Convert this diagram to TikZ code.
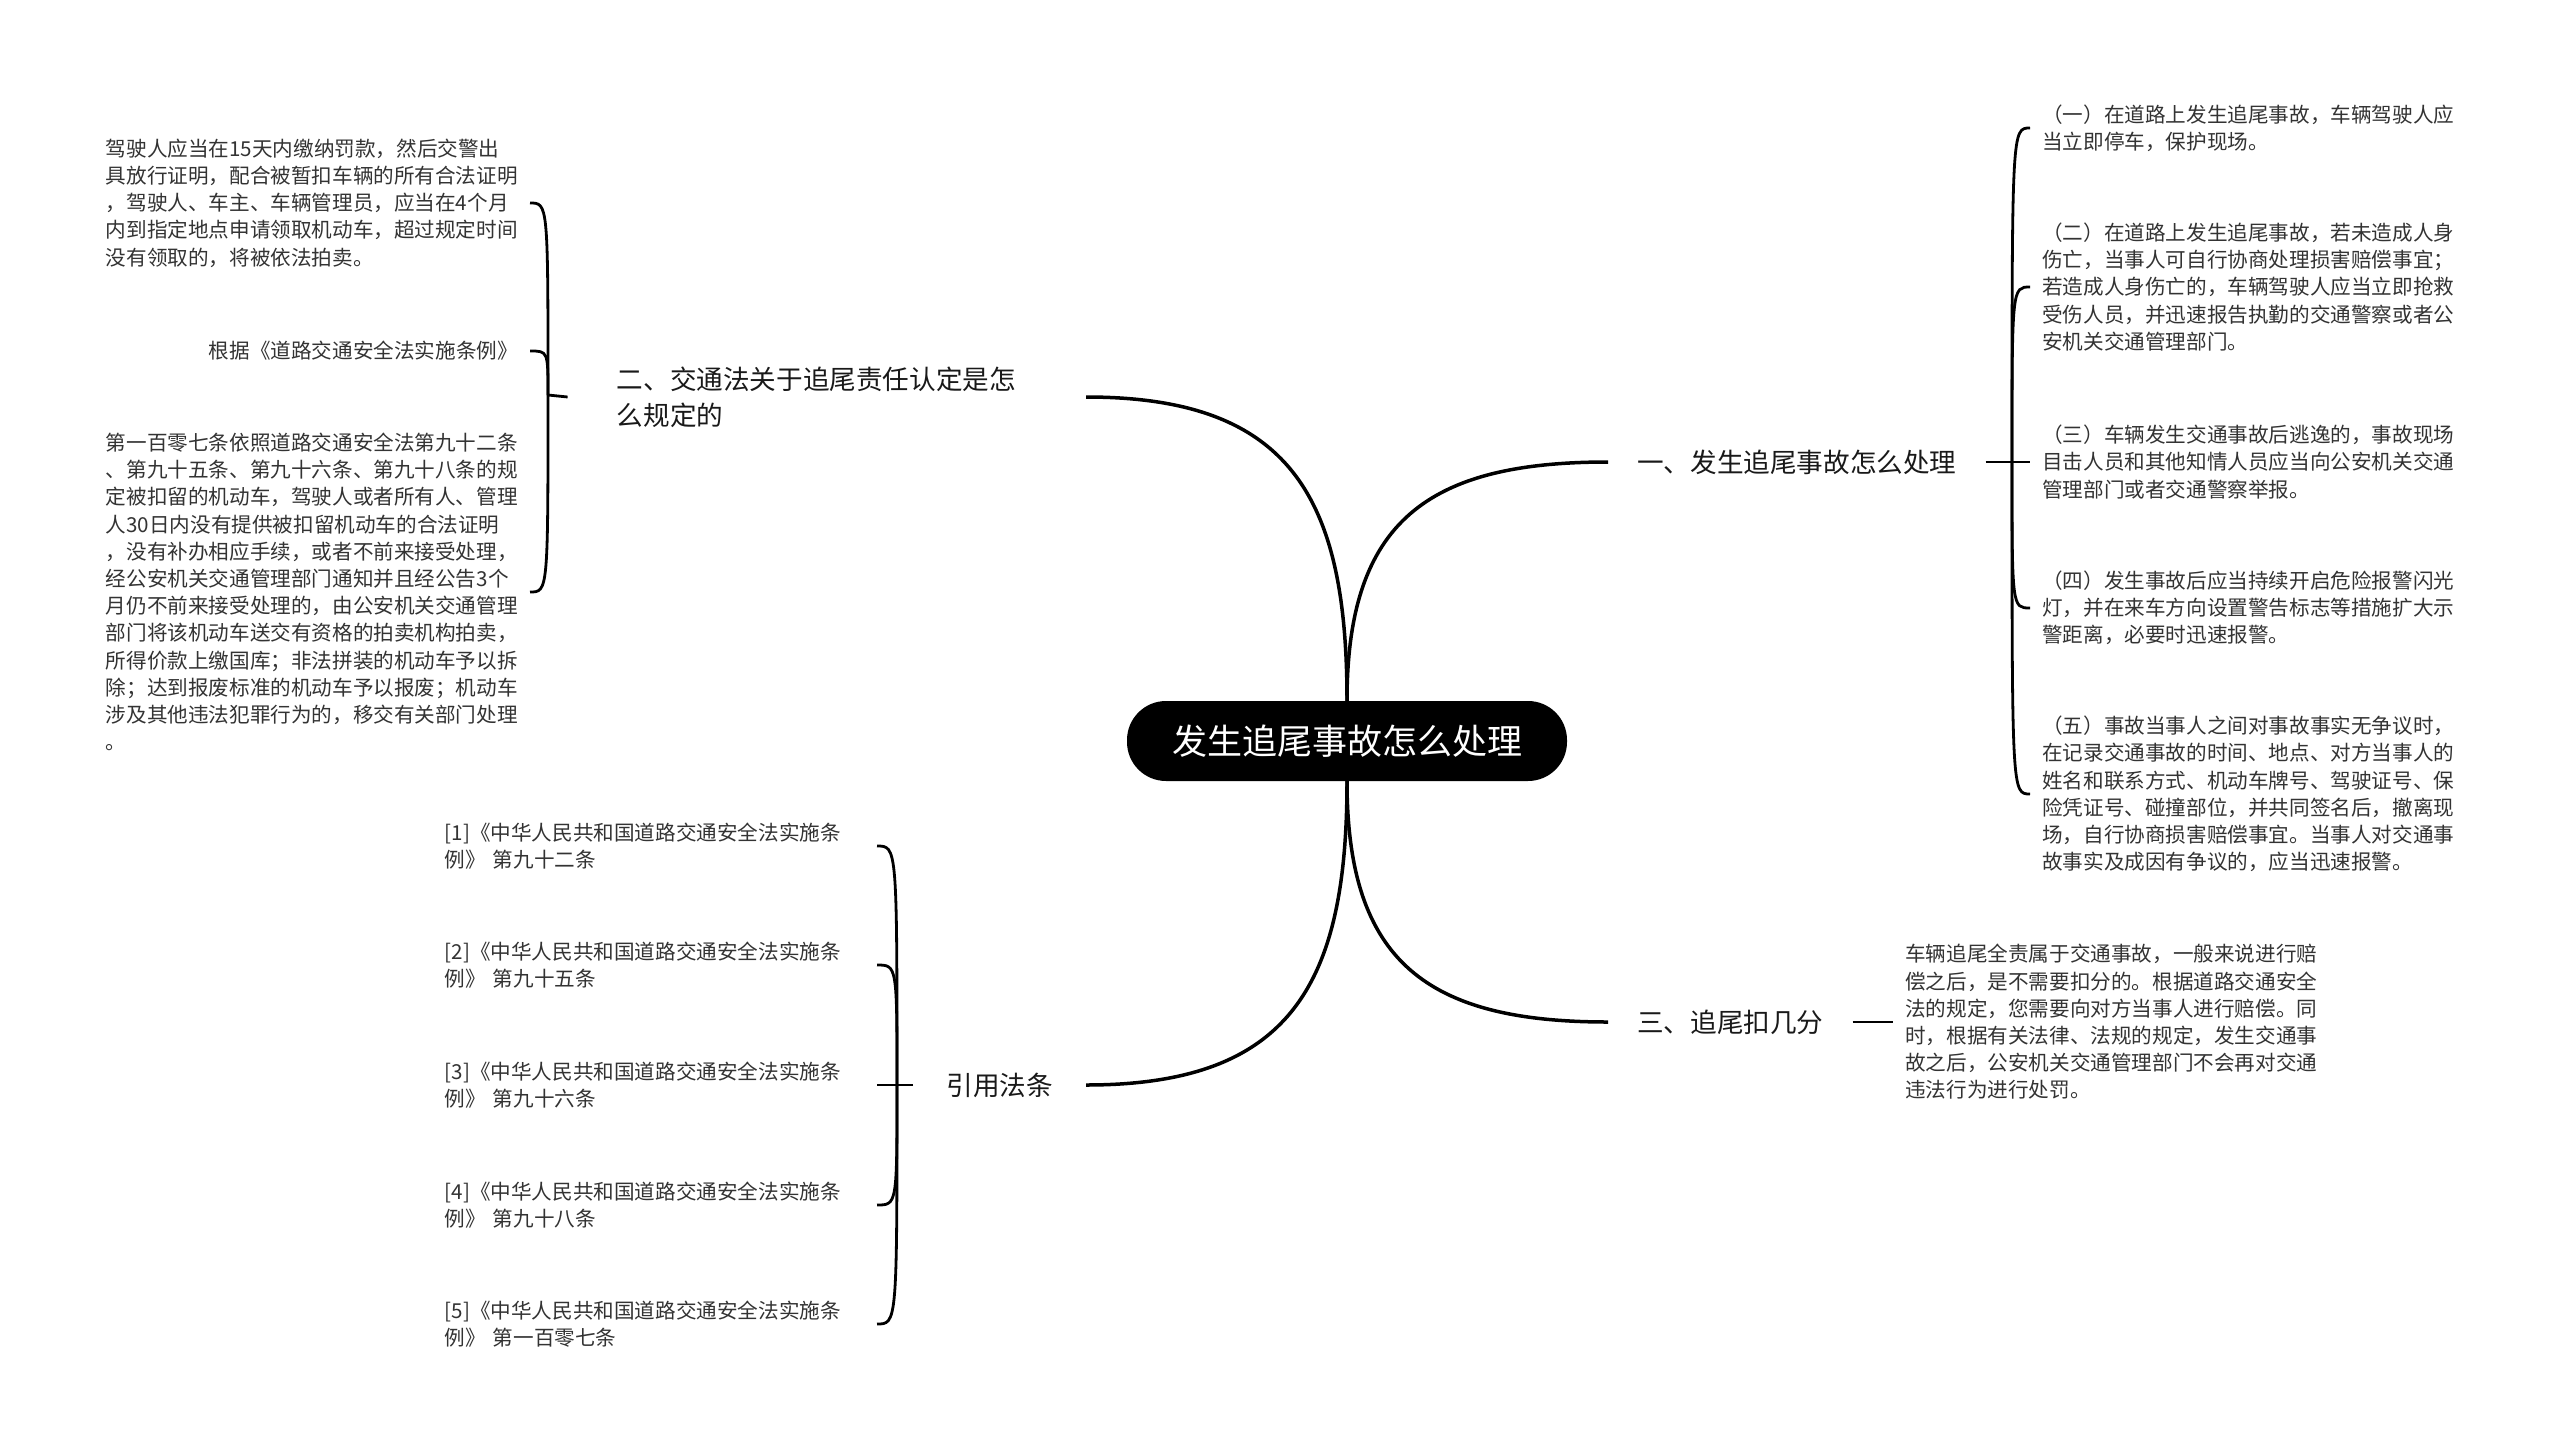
\documentclass[tikz,border=0pt]{standalone}
\usepackage{fontspec}
\setmainfont{Noto Sans CJK SC}
\usepackage{tikz}
\definecolor{leafgray}{HTML}{333333}

\begin{document}
\begin{tikzpicture}[x=1pt, y=-1pt,
	leaf/.style={font=\fontsize{20.6}{27.2}\selectfont, text=leafgray, align=left, inner xsep=12pt, inner ysep=0pt},
	branch/.style={font=\fontsize{26.6}{36}\selectfont, text=black!90, align=left, inner xsep=29pt, inner ysep=4pt},
	trunk/.style={line width=3.5pt},
	twig/.style={line width=2.8pt}]

\fill[white] (0,0) rectangle (2560,1451);
\useasboundingbox (0,0) rectangle (2560,1451);

\node[fill=black, text=white, rounded corners=39pt, minimum width=440pt, minimum height=80pt, font=\fontsize{35}{42}\selectfont] (root) at (1347,741) {发生追尾事故怎么处理};

\node[branch, anchor=west] (b1) at (1608,462) {一、发生追尾事故怎么处理};
\node[branch, anchor=east, text width=420pt, inner xsep=49pt] (b2) at (1086,397) {二、交通法关于追尾责任认定是怎\\么规定的};
\node[branch, anchor=west] (b3) at (1608,1022) {三、追尾扣几分};
\node[branch, anchor=east, inner xsep=33pt] (b4) at (1086,1085) {引用法条};

\draw[trunk] (root.north) to[out=90, in=180, looseness=1.3] (b1.west);
\draw[trunk] (root.north) to[out=90, in=0, looseness=1.3] (b2.east);
\draw[trunk] (root.south) to[out=-90, in=180, looseness=1.3] (b3.west);
\draw[trunk] (root.south) to[out=-90, in=0, looseness=1.3] (b4.east);

% right side
\coordinate (j1) at (2012,462);
\node[leaf, anchor=west] (p1) at (2030,128) {（一）在道路上发生追尾事故，车辆驾驶人应\\当立即停车，保护现场。};
\node[leaf, anchor=west] (p2) at (2030,287) {（二）在道路上发生追尾事故，若未造成人身\\伤亡，当事人可自行协商处理损害赔偿事宜；\\若造成人身伤亡的，车辆驾驶人应当立即抢救\\受伤人员，并迅速报告执勤的交通警察或者公\\安机关交通管理部门。};
\node[leaf, anchor=west] (p3) at (2030,462) {（三）车辆发生交通事故后逃逸的，事故现场\\目击人员和其他知情人员应当向公安机关交通\\管理部门或者交通警察举报。};
\node[leaf, anchor=west] (p4) at (2030,608) {（四）发生事故后应当持续开启危险报警闪光\\灯，并在来车方向设置警告标志等措施扩大示\\警距离，必要时迅速报警。};
\node[leaf, anchor=west] (p5) at (2030,794) {（五）事故当事人之间对事故事实无争议时，\\在记录交通事故的时间、地点、对方当事人的\\姓名和联系方式、机动车牌号、驾驶证号、保\\险凭证号、碰撞部位，并共同签名后，撤离现\\场，自行协商损害赔偿事宜。当事人对交通事\\故事实及成因有争议的，应当迅速报警。};

\draw[twig] (b1.east) -- (j1);
\foreach \p in {p1,p2,p3,p4,p5}
	\draw[twig] (j1) .. controls (j1 |- \p.west) .. (\p.west);

\node[leaf, anchor=west] (d1) at (1893,1022) {车辆追尾全责属于交通事故，一般来说进行赔\\偿之后，是不需要扣分的。根据道路交通安全\\法的规定，您需要向对方当事人进行赔偿。同\\时，根据有关法律、法规的规定，发生交通事\\故之后，公安机关交通管理部门不会再对交通\\违法行为进行处罚。};
\draw[twig] (b3.east) -- (d1.west);

% left side
\coordinate (j2) at (548,395);
\node[leaf, anchor=east] (a1) at (530,203) {驾驶人应当在15天内缴纳罚款，然后交警出\\具放行证明，配合被暂扣车辆的所有合法证明\\，驾驶人、车主、车辆管理员，应当在4个月\\内到指定地点申请领取机动车，超过规定时间\\没有领取的，将被依法拍卖。};
\node[leaf, anchor=east] (a2) at (530,351) {根据《道路交通安全法实施条例》};
\node[leaf, anchor=east] (a3) at (530,592) {第一百零七条依照道路交通安全法第九十二条\\、第九十五条、第九十六条、第九十八条的规\\定被扣留的机动车，驾驶人或者所有人、管理\\人30日内没有提供被扣留机动车的合法证明\\，没有补办相应手续，或者不前来接受处理，\\经公安机关交通管理部门通知并且经公告3个\\月仍不前来接受处理的，由公安机关交通管理\\部门将该机动车送交有资格的拍卖机构拍卖，\\所得价款上缴国库；非法拼装的机动车予以拆\\除；达到报废标准的机动车予以报废；机动车\\涉及其他违法犯罪行为的，移交有关部门处理\\。};

\draw[twig] (b2.west) -- (j2);
\foreach \a in {a1,a2,a3}
	\draw[twig] (j2) .. controls (j2 |- \a.east) .. (\a.east);

\coordinate (j4) at (897,1085);
\foreach \n/\artno/\y in {1/第九十二条/846, 2/第九十五条/965, 3/第九十六条/1085, 4/第九十八条/1205, 5/第一百零七条/1324}
	\node[leaf, anchor=east, text width=420pt] (r\n) at (877,\y) {[\n]《中华人民共和国道路交通安全法实施条\\例》 \artno};

\draw[twig] (b4.west) -- (j4);
\foreach \n in {1,...,5}
	\draw[twig] (j4) .. controls (j4 |- r\n.east) .. (r\n.east);

\end{tikzpicture}
\end{document}
